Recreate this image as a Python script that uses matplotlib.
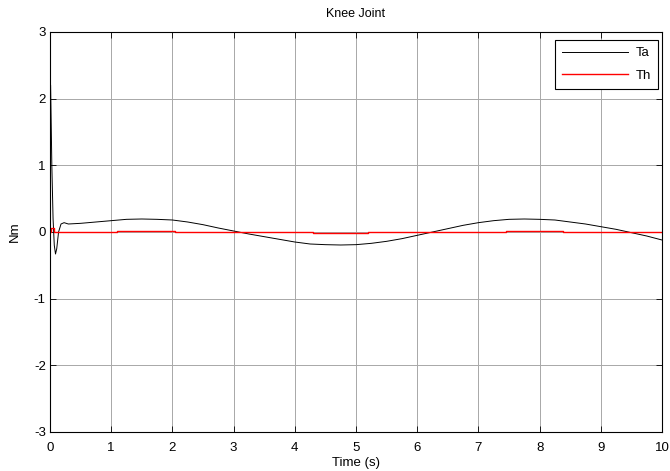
import matplotlib
matplotlib.use("Agg")
import matplotlib.pyplot as plt

# Data
ta_t = [0, 0.01, 0.02, 0.03, 0.05, 0.07, 0.09, 0.11, 0.14, 0.18, 0.23, 0.3, 0.5,
        0.75, 1.0, 1.25, 1.5, 1.75, 2.0, 2.25, 2.5, 2.75, 3.0, 3.25, 3.5, 3.75,
        4.0, 4.25, 4.5, 4.75, 5.0, 5.25, 5.5, 5.75, 6.0, 6.25, 6.5, 6.75, 7.0,
        7.25, 7.5, 7.75, 8.0, 8.25, 8.5, 8.75, 9.0, 9.25, 9.5, 9.75, 10.0]
ta_v = [2.25, 2.2, 1.6, 1.0, 0.2, -0.2, -0.33, -0.25, 0.0, 0.12, 0.14, 0.12, 0.13,
        0.15, 0.17, 0.19, 0.195, 0.19, 0.18, 0.15, 0.11, 0.06, 0.015, -0.03, -0.07,
        -0.11, -0.15, -0.18, -0.19, -0.195, -0.19, -0.17, -0.14, -0.10, -0.05, 0.0,
        0.05, 0.10, 0.14, 0.17, 0.19, 0.195, 0.19, 0.18, 0.15, 0.12, 0.08, 0.04,
        -0.01, -0.06, -0.12]

th_t = [0, 0.02, 0.07, 1.1, 2.05, 4.3, 5.2, 7.45, 8.38, 10.0]
th_v = [0.0, 0.06, 0.0, 0.012, 0.0, -0.01, 0.0, 0.012, 0.0, 0.0]

x_ticks = [0, 1, 2, 3, 4, 5, 6, 7, 8, 9, 10]
y_ticks = [-3, -2, -1, 0, 1, 2, 3]

plt.rcParams['font.family'] = ['Liberation Sans', 'DejaVu Sans']
plt.rcParams['axes.unicode_minus'] = False

fig = plt.figure(figsize=(6.70, 4.71), dpi=100)
ax = fig.add_axes([50 / 670, 39 / 471, 612 / 670, 400 / 471])

ax.plot(ta_t, ta_v, color='black', lw=0.7, label='Ta')
ax.plot(th_t, th_v, color='red', lw=1.0, drawstyle='steps-post', label='Th')

ax.set_xlim(0, 10)
ax.set_ylim(-3, 3)
ax.set_xticks(x_ticks)
ax.set_yticks(y_ticks)
ax.grid(True, color='#a8a8a8', lw=0.7, ls='-')
ax.set_axisbelow(True)
ax.tick_params(direction='in', top=True, right=True, labelsize=9.5, length=4,
               width=0.6)
ax.tick_params(axis='x', pad=7.5)
ax.tick_params(axis='y', pad=3)
for s in ax.spines.values():
    s.set_linewidth(0.8)

ax.set_title('Knee Joint', fontsize=9, pad=11)
ax.set_xlabel('Time (s)', fontsize=9.5, labelpad=2)
ax.set_ylabel('Nm', fontsize=9.5, labelpad=9)

leg = ax.legend(loc='upper right', fontsize=9.5, fancybox=False, framealpha=1,
                edgecolor='black', handlelength=5.0, borderpad=0.55,
                labelspacing=0.75, handletextpad=0.55,
                bbox_to_anchor=(0.9935, 0.98), borderaxespad=0)
leg.get_frame().set_linewidth(0.8)

fig.savefig('out.png', dpi=100)
